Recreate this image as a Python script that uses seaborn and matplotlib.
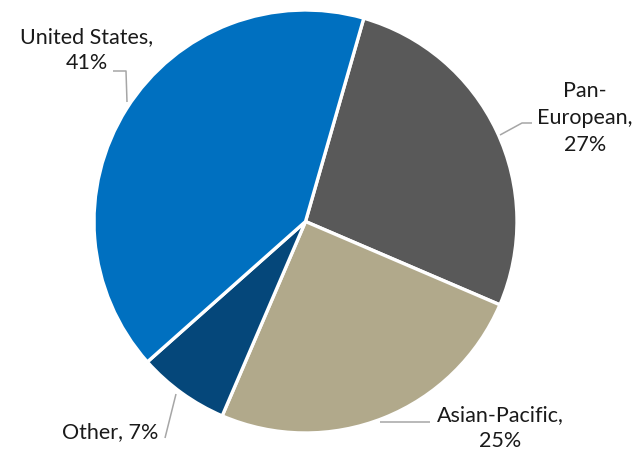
import matplotlib
matplotlib.use("Agg")
import matplotlib.pyplot as plt
import seaborn as sns

# Share of the total by region, in drawing order (clockwise from the top)
regions = ["Pan-European", "Asian-Pacific", "Other", "United States"]
label_names = ["Pan-\nEuropean,", "Asian-Pacific,", "Other,", "United States,"]
label_seps = ["\n", "\n", " ", "\n"]
shares = [27, 25, 7, 41]
colors = ["#595959", "#B1A98B", "#05477A", "#0070C0"]

sns.set_theme(style="white")
plt.rcParams["font.family"] = ["Lato", "DejaVu Sans"]

W, H = 639, 453
fig = plt.figure(figsize=(W / 100, H / 100), dpi=100)
ax = fig.add_axes([0, 0, 1, 1])


def py(y):
    # convert a top-down pixel row into the upward axis coordinate
    return H - y


cx, cy, r = 305.5, 221.5, 211.5
ax.pie(shares, colors=colors, startangle=74, counterclock=False,
       center=(cx, py(cy)), radius=r, frame=True,
       wedgeprops=dict(edgecolor="white", linewidth=2.4))
ax.set_xlim(0, W)
ax.set_ylim(0, H)
ax.set_aspect("auto")
ax.axis("off")

# label anchors (centre of each text block) and leader lines
label_pos = [(585, 118), (500, 428), (110, 432), (87, 50)]
leaders = [
    [(500, 135), (522, 123), (532, 123)],
    [(380, 422), (430, 422)],
    [(165, 438), (176, 394)],
    [(113, 71), (126, 71), (127, 102)],
]

for name, sep, val, (lx, ly), pts in zip(label_names, label_seps, shares,
                                         label_pos, leaders):
    ax.text(lx, py(ly), f"{name}{sep}{val}%", ha="center", va="center",
            fontsize=15.5, color="#1a1a1a", linespacing=1.42)
    xs = [p[0] for p in pts]
    ys = [py(p[1]) for p in pts]
    ax.plot(xs, ys, color="#A6A6A6", linewidth=1.1, solid_capstyle="butt")

fig.savefig("out.png", dpi=100)
